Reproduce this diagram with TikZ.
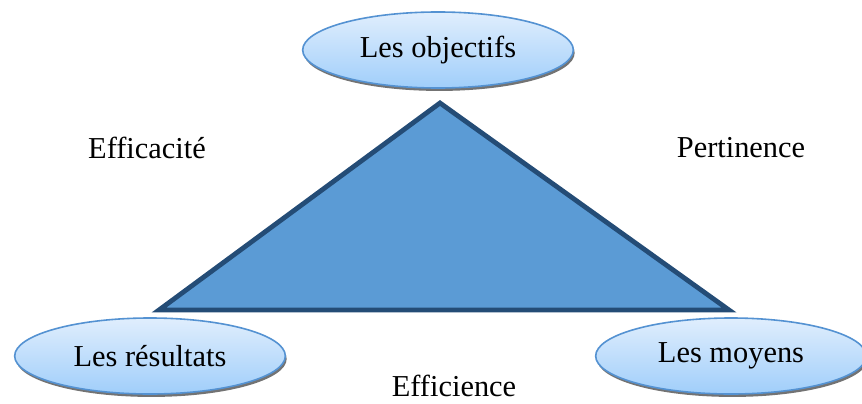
\documentclass[tikz,border=0pt]{standalone}
\usepackage{fontspec}
\setmainfont{Liberation Serif}
\usetikzlibrary{shapes.geometric,shadows}

\definecolor{triFill}{RGB}{91,155,213}
\definecolor{triLine}{RGB}{36,76,118}
\definecolor{pole}{RGB}{84,146,210}
\definecolor{poleTop}{RGB}{224,238,253}
\definecolor{poleBot}{RGB}{160,206,250}

\tikzset{
  pole/.style={ellipse, draw=pole, line width=1.2pt, inner sep=0pt,
    top color=poleTop, bottom color=poleBot,
    minimum width=203pt, minimum height=57pt,
    drop shadow={shadow xshift=1pt, shadow yshift=-2.2pt,
      fill=black!55, opacity=1}},
  crit/.style={inner sep=0pt}
}

\begin{document}
\begin{tikzpicture}[x=0.75pt, y=-0.75pt]

  \fontsize{22.8}{26}\selectfont

  \useasboundingbox (0,0) rectangle (862,403);

  % the three poles
  \node[pole] (obj) at (438,50) {Les objectifs};
  \node[pole] (res) at (150,356) {Les r\'esultats};
  \node[pole] (moy) at (731,356) {Les moyens};

  % corners of the triangle
  \coordinate (apex) at (440,103);
  \coordinate (bl) at (159,310);
  \coordinate (br) at (729,310);

  \draw[fill=triFill, draw=triLine, line width=3.6pt, line join=miter]
    (apex) -- (bl) -- (br) -- cycle;

  % criteria
  \node[crit] (eff) at (147,148) {Efficacit\'e};
  \node[crit] (per) at (741,148) {Pertinence};
  \node[crit] (efn) at (454,386) {Efficience};

\end{tikzpicture}
\end{document}
